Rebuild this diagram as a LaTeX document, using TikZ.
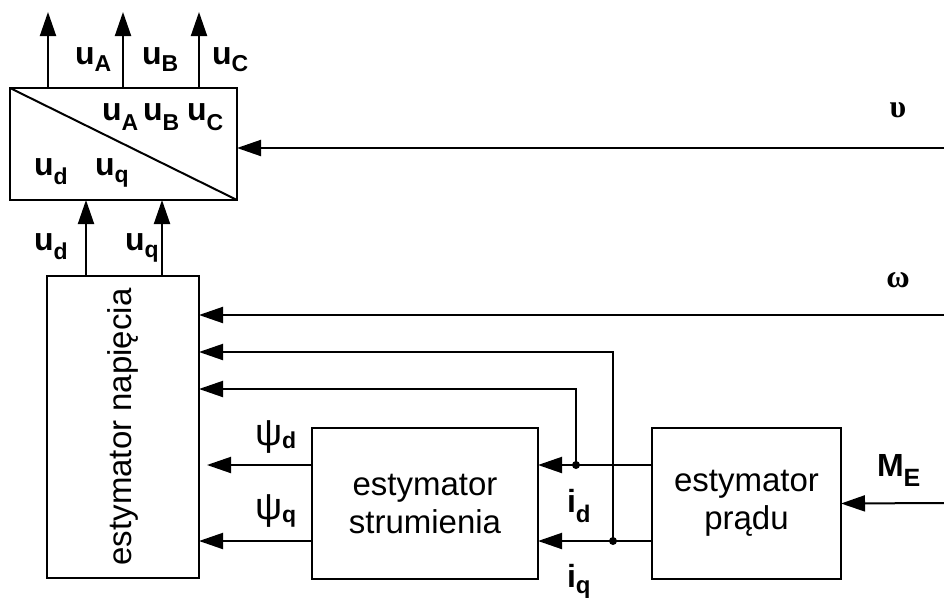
\documentclass[tikz,border=0pt]{standalone}
\usepackage{fontspec}
\setmainfont{Liberation Sans}
\newfontfamily\grk{Liberation Serif}
\usetikzlibrary{arrows.meta}
\newcommand{\sbs}[3]{\raisebox{-#1}{\fontsize{#2}{#2}\selectfont #3}}
\begin{document}
\begin{tikzpicture}[x=1pt,y=-1pt,line width=2pt,
  arr/.style={-{Triangle[length=24pt,width=16pt]}},
  blk/.style={draw,inner sep=0pt,outer sep=0pt,align=center,font=\fontsize{33}{38}\selectfont},
  lb/.style={inner sep=0pt,anchor=base west,font=\bfseries\fontsize{32}{32}\selectfont},
  dotn/.style={circle,fill,inner sep=0pt,minimum size=8pt}]
\useasboundingbox (0,0) rectangle (944,603);
% blocks
\node[blk,minimum width=227pt,minimum height=112pt] (T) at (123.5,144) {};
\draw (T.north west) -- (T.south east);
\node[blk,minimum width=152pt,minimum height=302pt] (N) at (123,427) {};
\node[rotate=90,inner sep=0pt,font=\fontsize{33}{38}\selectfont] (Nt) at (N.center) {estymator napięcia};
\node[blk,minimum width=226pt,minimum height=151pt] (S) at (425,503.5) {estymator\\strumienia};
\node[blk,minimum width=189pt,minimum height=151pt] (P) at (746.5,503.5) {estymator\\prądu};
% coordinates
\coordinate (oA) at (48,12);
\coordinate (oB) at (123,12);
\coordinate (oC) at (199,12);
\coordinate (xd) at (86,0);
\coordinate (xq) at (162,0);
\coordinate (vin) at (944,148);
\coordinate (win) at (944,315);
\coordinate (min) at (944,503);
\coordinate (k2) at (613,352);
\coordinate (k1) at (576,389);
\node[dotn] (j1) at (576,465) {};
\node[dotn] (j2) at (613,541) {};
% connectors
\draw[arr] (T.north -| oA) -- (oA);
\draw[arr] (T.north -| oB) -- (oB);
\draw[arr] (T.north -| oC) -- (oC);
\draw[arr] (N.north -| xd) -- (T.south -| xd);
\draw[arr] (N.north -| xq) -- (T.south -| xq);
\draw[arr] (vin) -- (vin -| T.east);
\draw[arr] (win) -- (win -| N.east);
\draw[arr] (j2.center) -- (k2) -- (k2 -| N.east);
\draw[arr] (j1.center) -- (k1) -- (k1 -| N.east);
\draw[arr] (P.west |- j1) -- (S.east |- j1);
\draw[arr] (P.west |- j2) -- (S.east |- j2);
\draw[arr] (S.west |- j1) -- ([xshift=8pt]N.east |- j1);
\draw[arr] (S.west |- j2) -- (N.east |- j2);
\draw[arr] (min) -- (P.east);
% labels
\node[lb] (lA) at (74,64) {u\sbs{7pt}{23}{A}};
\node[lb] (lB) at (141,64) {u\sbs{7pt}{23}{B}};
\node[lb] (lC) at (211,64) {u\sbs{7pt}{23}{C}};
\node[lb] (iA) at (101,120) {u\sbs{10pt}{23}{A}};
\node[lb] (iB) at (142,120) {u\sbs{10pt}{23}{B}};
\node[lb] (iC) at (186,120) {u\sbs{10pt}{23}{C}};
\node[lb] (id) at (33,175) {u\sbs{9pt}{23}{d}};
\node[lb] (iq) at (94,175) {u\sbs{7pt}{23}{q}};
\node[lb] (bd) at (33,250) {u\sbs{9pt}{23}{d}};
\node[lb] (bq) at (124,250) {u\sbs{7pt}{23}{q}};
\node[lb,font=\fontsize{38}{38}\selectfont] (pd) at (254,445) {ψ\sbs{3pt}{23}{\bfseries d}};
\node[lb,font=\fontsize{38}{38}\selectfont] (pq) at (254,519) {ψ\sbs{3pt}{23}{\bfseries q}};
\node[lb,font=\bfseries\fontsize{32}{32}\selectfont] (cd) at (566,512) {i\sbs{10pt}{24}{d}};
\node[lb,font=\bfseries\fontsize{32}{32}\selectfont] (cq) at (566,587) {i\sbs{6pt}{24}{q}};
\node[lb,font=\bfseries\fontsize{32}{32}\selectfont] (me) at (876,476) {M\sbs{10pt}{25}{E}};
\node[inner sep=0pt,anchor=base,font=\grk\bfseries\fontsize{32}{32}\selectfont] (ups) at (898,117) {υ};
\node[inner sep=0pt,anchor=base,font=\grk\bfseries\fontsize{32}{32}\selectfont] (om) at (898,287) {ω};
\end{tikzpicture}
\end{document}
